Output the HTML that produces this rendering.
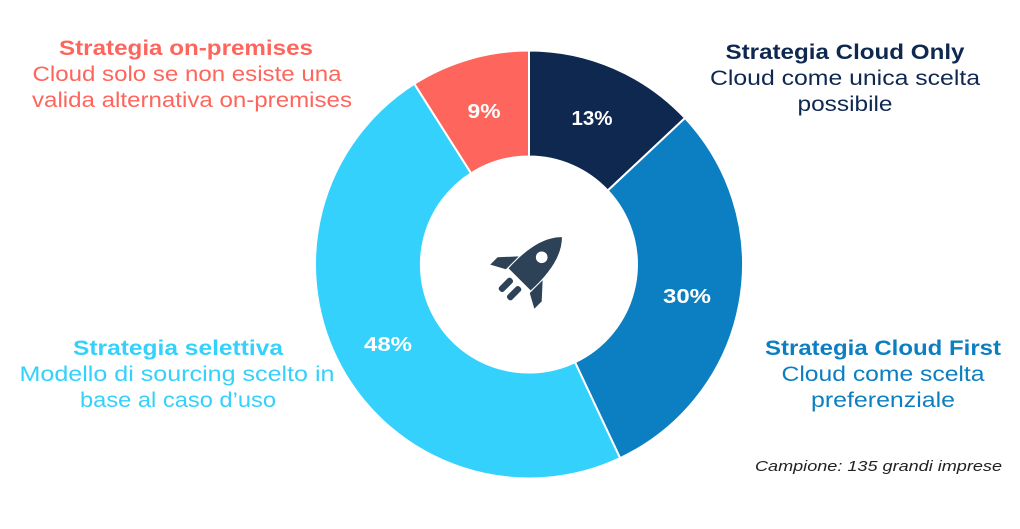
<!DOCTYPE html>
<html><head><meta charset="utf-8"><style>
body{margin:0;background:#fff;width:1020px;height:524px;overflow:hidden}
svg text{font-family:"Liberation Sans",sans-serif}
</style></head><body>
<svg width="1020" height="524" viewBox="0 0 1020 524">
<g stroke="#fff" stroke-width="2">
<path d="M529,50.5 A214,214 0 0 1 685,118 L607.7,190.6 A108,108 0 0 0 529,156.5 Z" fill="#0e2850"/>
<path d="M685,118 A214,214 0 0 1 620.1,458.1 L575,362.2 A108,108 0 0 0 607.7,190.6 Z" fill="#0b7fc1"/>
<path d="M620.1,458.1 A214,214 0 0 1 414.3,83.8 L471.1,173.3 A108,108 0 0 0 575,362.2 Z" fill="#33d1fb"/>
<path d="M414.3,83.8 A214,214 0 0 1 529,50.5 L529,156.5 A108,108 0 0 0 471.1,173.3 Z" fill="#fe655c"/>
</g>
<g font-weight="bold" font-size="20" fill="#fff" text-anchor="middle">
<text x="592" y="125" textLength="41" lengthAdjust="spacingAndGlyphs">13%</text>
<text x="687" y="303" textLength="48" lengthAdjust="spacingAndGlyphs">30%</text>
<text x="388" y="351" textLength="48" lengthAdjust="spacingAndGlyphs">48%</text>
<text x="484" y="118" textLength="33" lengthAdjust="spacingAndGlyphs">9%</text>
</g>
<g fill="#2d4256" transform="translate(527,272) rotate(45) scale(1.3)">
<path d="M0,-38 C10,-28 13,-12 12,8 L-12,8 C-13,-12 -10,-28 0,-38 Z"/>
<path d="M-13,-4 L-24,8 L-24,16 L-13,10 Z"/>
<path d="M13,-4 L24,8 L24,16 L13,10 Z"/>
<rect x="-7" y="12" width="5" height="13" rx="2"/>
<rect x="2" y="12" width="5" height="13" rx="2"/>
<circle cx="0" cy="-16" r="4.5" fill="#fff"/>
</g>
<g font-size="21" text-anchor="middle">
<text x="186" y="55" fill="#fe655c" font-weight="bold" textLength="254" lengthAdjust="spacingAndGlyphs">Strategia on-premises</text>
<text x="187" y="81" fill="#fe655c" textLength="309" lengthAdjust="spacingAndGlyphs">Cloud solo se non esiste una</text>
<text x="192" y="107" fill="#fe655c" textLength="320" lengthAdjust="spacingAndGlyphs">valida alternativa on-premises</text>
<text x="845" y="59" fill="#0e2850" font-weight="bold" textLength="239" lengthAdjust="spacingAndGlyphs">Strategia Cloud Only</text>
<text x="845" y="85" fill="#0e2850" textLength="270" lengthAdjust="spacingAndGlyphs">Cloud come unica scelta</text>
<text x="845" y="111" fill="#0e2850" textLength="95" lengthAdjust="spacingAndGlyphs">possibile</text>
<text x="883" y="355" fill="#0b7fc1" font-weight="bold" textLength="236" lengthAdjust="spacingAndGlyphs">Strategia Cloud First</text>
<text x="883" y="381" fill="#0b7fc1" textLength="203" lengthAdjust="spacingAndGlyphs">Cloud come scelta</text>
<text x="883" y="407" fill="#0b7fc1" textLength="144" lengthAdjust="spacingAndGlyphs">preferenziale</text>
<text x="178" y="355" fill="#33d1fb" font-weight="bold" textLength="210" lengthAdjust="spacingAndGlyphs">Strategia selettiva</text>
<text x="177" y="381" fill="#33d1fb" textLength="315" lengthAdjust="spacingAndGlyphs">Modello di sourcing scelto in</text>
<text x="178" y="407" fill="#33d1fb" textLength="196" lengthAdjust="spacingAndGlyphs">base al caso d’uso</text>
</g>
<text x="1002" y="471" font-size="15" font-style="italic" fill="#222" text-anchor="end" textLength="247" lengthAdjust="spacingAndGlyphs">Campione: 135 grandi imprese</text>
</svg>
</body></html>
